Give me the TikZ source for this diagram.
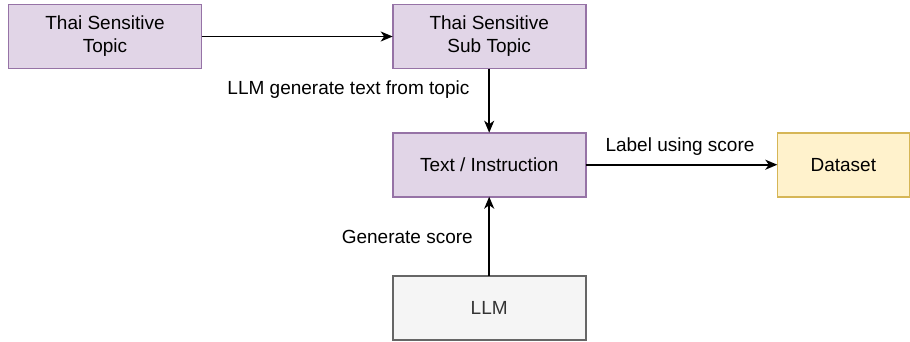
\documentclass[tikz,border=0pt]{standalone}
\usepackage{fontspec}
\setmainfont{Liberation Sans}
\usetikzlibrary{arrows.meta}
\definecolor{pfill}{HTML}{E1D5E7}
\definecolor{pdraw}{HTML}{9673A6}
\definecolor{yfill}{HTML}{FFF2CC}
\definecolor{ydraw}{HTML}{D6B656}
\definecolor{gfill}{HTML}{F5F5F5}
\definecolor{gdraw}{HTML}{666666}
\definecolor{gtext}{HTML}{333333}
\begin{document}
\begin{tikzpicture}[x=1pt,y=-1pt,
  every node/.style={font=\fontsize{19}{23}\selectfont, inner sep=0pt, outer sep=0pt},
  boxbase/.style={draw, line width=1.6pt, minimum height=64pt, align=center},
  pbox/.style={boxbase, fill=pfill, draw=pdraw, minimum width=193pt},
  ybox/.style={boxbase, fill=yfill, draw=ydraw, minimum width=132pt},
  gbox/.style={boxbase, fill=gfill, draw=gdraw, text=gtext, minimum width=193pt},
  conn/.style={line width=1.6pt, -{Stealth[length=12pt,width=10pt,inset=3.5pt]}},
  lbl/.style={fill=white, inner sep=1pt}]
\path[use as bounding box] (0,0) rectangle (910,341);
\node[pbox] (topic) at (105,36.5) {Thai Sensitive\\Topic};
\node[pbox] (sub) at (489.2,36.5) {Thai Sensitive\\Sub Topic};
\node[pbox] (text) at (489.2,164.7) {Text / Instruction};
\node[ybox] (data) at (843.3,164.7) {Dataset};
\node[gbox] (llm) at (489.2,308) {LLM};
\draw[conn] (topic) -- (sub);
\draw[conn] (sub) -- (text);
\draw[conn] (llm) -- (text);
\draw[conn] (text) -- (data);
\node[lbl] (l1) at (348.4,90) {LLM generate text from topic};
\node[lbl] (l2) at (407.3,237) {Generate score};
\node[lbl] (l3) at (680,146.7) {Label using score};
\end{tikzpicture}
\end{document}
